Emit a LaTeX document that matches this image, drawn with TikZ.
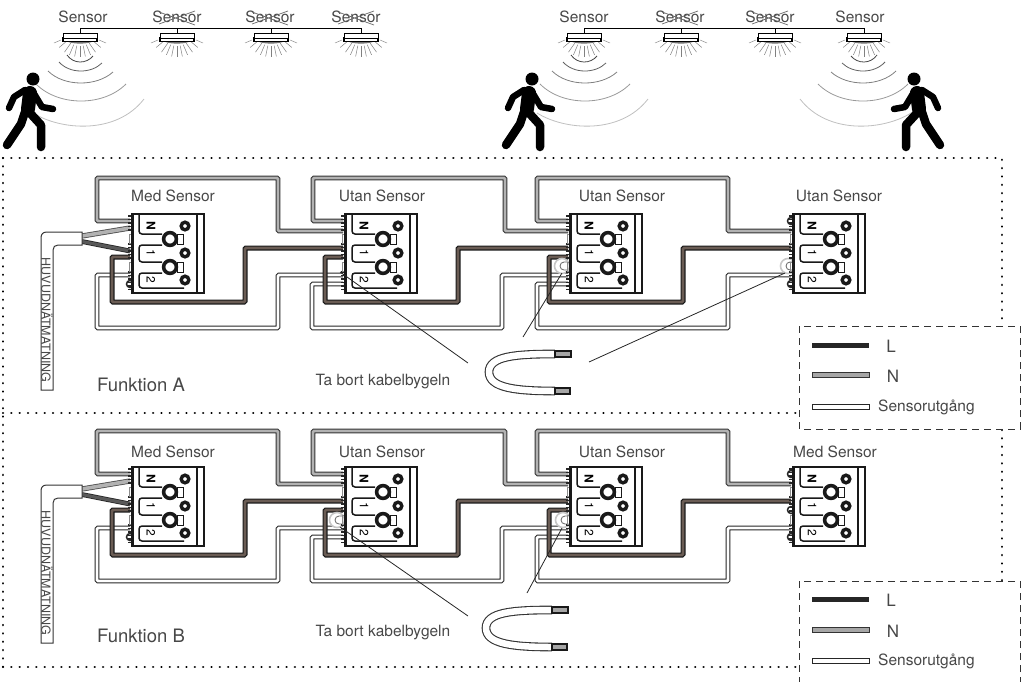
\documentclass[tikz,border=0pt]{standalone}
\usepackage{fontspec}
\setmainfont{TeX Gyre Heros}
\pgfdeclarelayer{wires}
\pgfsetlayers{wires,main}
\definecolor{wirebrown}{HTML}{6A5C54}
\tikzset{
  lbl/.style={font=\fontsize{15.5}{18}\selectfont,text=black!72,inner sep=0pt},
  wireN/.style={line width=1.1pt,double=black!30,double distance=2.6pt,rounded corners=1pt,draw=black!80},
  wireL/.style={line width=1.1pt,double=wirebrown,double distance=2.8pt,rounded corners=1pt,draw=black!90},
  wireS/.style={line width=1pt,double=white,double distance=2.8pt,rounded corners=1pt,draw=black!85},
  dotframe/.style={line width=2.5pt,line cap=round,dash pattern=on .01pt off 8.33pt},
  dashbox/.style={line width=1pt,draw=black!80,dash pattern=on 7pt off 5pt},
  leader/.style={line width=.8pt,draw=black!85},
  crossline/.style={line width=.7pt,draw=black!60},
  pinlobe/.style={line width=1.5pt,draw=black!85,fill=white},
  detector/.pic={
    \coordinate (-top) at (0,0);
    \foreach \a in {40,55,67,78.5,90,101.5,113,125,140}
      \draw[line width=.5pt,black!50] (0,-3) ++(\a:16) -- ++(\a:11);
    \draw[line width=.5pt,black!45] (-19,7) -- (-26,10) (19,7) -- (26,10);
    \fill[black!55] (-14,8) .. controls (-8,11.5) and (8,11.5) .. (14,8) -- cycle;
    \draw[line width=1.1pt,fill=white] (-17,5) rectangle (17,8.5);
    \draw[line width=.8pt,fill=white] (-17,0) rectangle (17,5);
  },
  waves/.pic={
    \foreach \xa/\ya/\xb/\yb/\d/\c in {-13/55/13/56/62/72,-21/62/22/63/71/62,-32/71/33/72/83/50,-44/84/46/84/101/40,-47/113/64/99/126/25}
      \draw[line width=.8pt,black!\c] (\xa,\ya) .. controls ({\xa+(\xb-\xa)*.25},{(4*\d-\ya)/3}) and ({\xb-(\xb-\xa)*.25},{(4*\d-\yb)/3}) .. (\xb,\yb);
  },
  walker/.pic={
    \fill (0,0) circle (6.5);
    \draw[line width=6.5pt,line cap=round,line join=round] (-8,11) -- (-19,18) -- (-24,29);
    \draw[line width=6.5pt,line cap=round,line join=round] (0,13) -- (9,28) -- (20,30);
    \draw[line width=14pt,line cap=round] (-3,14) -- (-5,30);
    \draw[line width=8.5pt,line cap=round,line join=round] (-8,33) -- (-12,45) -- (-26,66);
    \draw[line width=8.5pt,line cap=round,line join=round] (-3,34) -- (8,46) -- (8,68);
  },
  terminal/.pic={
    \coordinate (-n1) at (2,7);
    \coordinate (-n2) at (2,17);
    \coordinate (-l1) at (2,34);
    \coordinate (-l2) at (2,43);
    \coordinate (-s1) at (2,61);
    \coordinate (-s2) at (2,70);
    \coordinate (-mg) at (2,14);
    \coordinate (-md) at (2,37);
    \foreach \yy in {2,5.5,...,18,30,33.5,...,46,58,61.5,...,78}
      \draw[line width=1.2pt,black!85] (0,\yy) -- (4,\yy);
    \draw[line width=.6pt,black!45] (1.5,20) rectangle (4,29) (1.5,48) rectangle (4,57);
    \draw[line width=2.2pt,fill=white,draw=black!90] (4.5,0) rectangle (76,79);
    \draw[line width=1.8pt,black!90] (69,0) -- (69,79);
    \draw[line width=1.5pt,black!90,rounded corners=3pt] (11,1) -- (11,20) -- (34,20);
    \draw[line width=1.5pt,black!90,rounded corners=3pt] (34,31) -- (11,31) -- (11,48) -- (34,48);
    \draw[line width=1.5pt,black!90,rounded corners=3pt] (34,59) -- (11,59) -- (11,74) -- (56,74);
    \foreach \yc in {25,53} {
      \draw[line width=1pt,fill=white,draw=black!90] (49,\yc-5) rectangle (55,\yc+5);
      \draw[line width=3.6pt,fill=white,draw=black!90] (42,\yc) circle (6.4);
    }
    \foreach \yc in {12,39,66}
      \draw[line width=3.4pt,fill=white,draw=black!90] (57,\yc) circle (3.8);
    \node[inner sep=0pt,rotate=-90,font=\fontsize{12}{13}\selectfont\bfseries] (-nn) at (23,12) {N};
    \node[inner sep=0pt,rotate=-90,font=\fontsize{12}{13}\selectfont] (-nl) at (23,39) {1};
    \node[inner sep=0pt,rotate=-90,font=\fontsize{12}{13}\selectfont] (-ns) at (23,66) {2};
  },
  bridge/.pic={
    \draw[line width=1.6pt,draw=black!22,fill=white] (0,0) circle (7.5);
    \draw[line width=.8pt,black!60] (5,-4) -- (2,-4) arc (-90:-270:4) -- (5,4);
  },
  ubend/.pic={
    \draw[line width=1.1pt,double=white,double distance=6.5pt,draw=black!80] (-16,0) .. controls (-55,0) and (-82,2) .. (-82,18) .. controls (-82,34) and (-55,37) .. (-16,37);
    \draw[line width=1.3pt,fill=black!35,draw=black!90] (-16,-3) rectangle (0,3);
    \draw[line width=1.3pt,fill=black!35,draw=black!90] (-16,34) rectangle (-1,40);
  },
}
\begin{document}
\begin{tikzpicture}[x=1pt,y=-1pt]
  \useasboundingbox (0,0) rectangle (1028,681);
  \clip (0,0) rectangle (1028,681);
  % sensors on top
  \foreach \s/\xs/\xt in {s1/80/83,s2/177/177,s3/271/270,s4/361/356,s5/584/584,s6/681/680,s7/775/770,s8/864/860} {
    \pic (\s) at (\xs,33) {detector};
    \node[lbl] (\s t) at (\xt,17) {Sensor};
  }
  \foreach \s in {s2,s3,s4,s6,s7}
    \draw[line width=.9pt] (\s-top) -- ++(0,-5);
  \draw[line width=.9pt] (s1-top) -- ++(0,-5) -| (s4-top);
  \draw[line width=.9pt] (s5-top) -- ++(0,-5) -| (s8-top);
  \foreach \s in {s2t,s3t,s4t,s6t,s7t}
    \draw[crossline] (\s.center) ++(-18,7) -- ++(36,-13) (\s.center) ++(-18,-5) -- ++(36,13);
  \pic at (80,0) {waves};
  \pic at (584,0) {waves};
  \pic[xscale=-1] at (864,0) {waves};
  \pic at (33,79) {walker};
  \pic at (532,79) {walker};
  \pic[xscale=-1] at (914,79) {walker};
  % frame
  \draw[dotframe] (3,158) -- (1002,158) -- (1002,326);
  \draw[dotframe] (3,158) -- (3,668);
  \draw[dotframe] (3,413) -- (799,413);
  \draw[dotframe] (1002,430) -- (1002,581);
  \draw[dotframe] (3,667) -- (799,667);
  % both functions
  \foreach \f/\dy/\ty in {a/0/196,b/253/199} {
    \begin{scope}[shift={(0,\dy)}]
      \pic (\f1) at (128,214) {terminal};
      \pic (\f2) at (341,214) {terminal};
      \pic (\f3) at (566,214) {terminal};
      \pic (\f4) at (789,214) {terminal};
      \begin{pgfonlayer}{wires}
        \foreach \u/\st/\v/\nl/\nr/\ll/\lr/\sl/\sr in {1/s1/2/97/278/112/245/97/278,2/s2/3/313/505/325/458/312/502,3/s2/4/537/728/549/683/537/728} {
          \draw[wireS] (\f\u-\st) -| (\sl,328) -- (\sr,328) |- (\f\v-s1);
          \draw[wireN] (\f\u-n1) -| (\nl,178) -- (\nr,178) |- (\f\v-n2);
          \draw[wireL] (\f\u-l2) -| (\ll,302) -- (\lr,302) |- (\f\v-l1);
        }
        \coordinate (\f cg) at (82,236);
        \coordinate (\f cd) at (82,241.5);
        \draw[line width=.8pt,double=black!30,double distance=3.6pt,draw=black!70] (\f cg) -- (\f1-mg);
        \draw[line width=.8pt,double=black!65,double distance=3.2pt,draw=black!85] (\f cd) -- (\f1-md);
      \end{pgfonlayer}
      \draw[line width=1pt,fill=white,draw=black!80] (41,390) -- (41,238) .. controls (41,234) and (43,232) .. (47,232) -- (82,232) -- (82,245) -- (58,245) .. controls (55,245) and (53,247) .. (53,250) -- (53,390) -- cycle;
      \node[lbl,rotate=-90,font=\fontsize{12.5}{14}\selectfont] (\f main) at (47,320) {HUVUDNÄTMATNING};
      \node[lbl] (\f u2) at (382,\ty) {Utan Sensor};
      \node[lbl] (\f u3) at (622,\ty) {Utan Sensor};
      \node[lbl] (\f u1) at (173,\ty) {Med Sensor};
    \end{scope}
  }
  \node[lbl] (a4t) at (839,196) {Utan Sensor};
  \node[lbl] (b4t) at (835,452) {Med Sensor};
  \node[lbl,font=\fontsize{18.5}{20}\selectfont] (fa) at (141,385) {Funktion A};
  \node[lbl,font=\fontsize{18.5}{20}\selectfont] (fb) at (141,636) {Funktion B};
  \node[lbl] (taa) at (383,382) {Ta bort kabelbygeln};
  \node[lbl] (tab) at (383,633) {Ta bort kabelbygeln};
  % round lobes and removed bridges
  \begin{pgfonlayer}{wires}
    \foreach \p in {a1-s2,a4-n1,a4-s2,b1-s2,b4-n1,b4-l2,b4-s2}
      \draw[pinlobe] (\p) circle (3.5);
    \pic at (562,266) {bridge};
    \pic at (788,266) {bridge};
    \pic at (337,520) {bridge};
    \pic at (563,520) {bridge};
  \end{pgfonlayer}
  % bridges with leader lines
  \pic at (571,354) {ubend};
  \pic at (568,610) {ubend};
  \foreach \n/\xa/\ya/\xb/\yb in {l1/340/272/468/363,l2/562/273/523/337,l3/785/273/589/362,l4/340/527/468/616,l5/562/528/527/593} {
    \coordinate (\n a) at (\xa,\ya);
    \coordinate (\n b) at (\xb,\yb);
    \draw[leader] (\n a) -- (\n b);
  }
  % legends
  \draw[dashbox] (799,326) rectangle (1020,429);
  \draw[dashbox] (799,581) rectangle (1020,684);
  \foreach \r/\yl/\yn/\ys in {ka/345/375/407,kb/599/630/661} {
    \coordinate (\r la) at (812,\yl);
    \coordinate (\r lb) at (869,\yl);
    \coordinate (\r na) at (812,\yn);
    \coordinate (\r nb) at (869,\yn);
    \coordinate (\r sa) at (812,\ys);
    \coordinate (\r sb) at (869,\ys);
    \draw[line width=5pt,black!85] (\r la) -- (\r lb);
    \draw[line width=1pt,fill=black!35,draw=black!80] ([yshift=2.5pt]\r na) rectangle ([yshift=-2.5pt]\r nb);
    \draw[line width=1pt,fill=white,draw=black!85] ([yshift=2.5pt]\r sa) rectangle ([yshift=-2.5pt]\r sb);
    \node[lbl,font=\fontsize{17}{19}\selectfont] (\r lt) at (891,\yl+1) {L};
    \node[lbl,font=\fontsize{17}{19}\selectfont] (\r nt) at (893,\yn+1) {N};
    \node[lbl,anchor=west] (\r st) at (878,\ys) {Sensorutgång};
  }
\end{tikzpicture}
\end{document}
